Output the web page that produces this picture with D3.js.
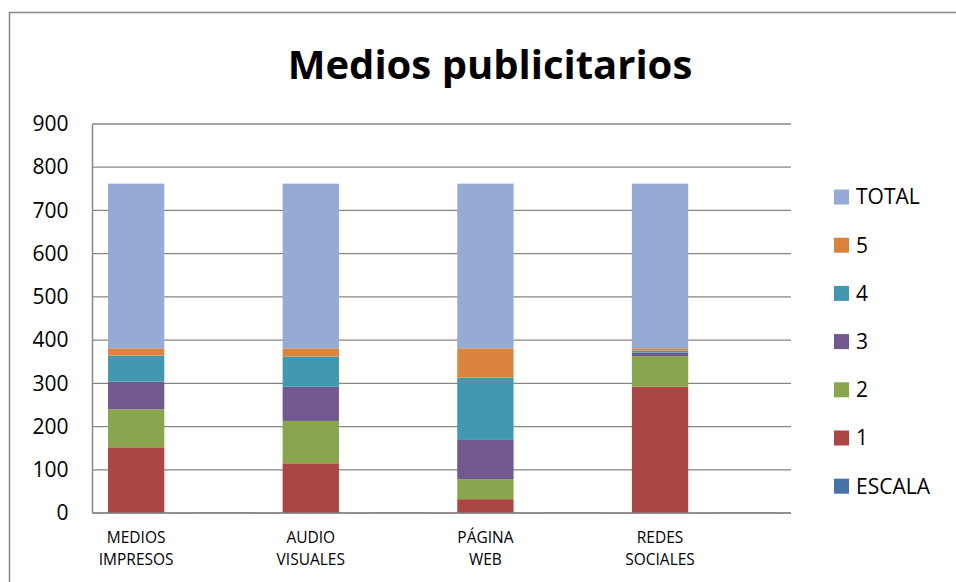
<!DOCTYPE html>
<html>
<head>
<meta charset="utf-8">
<script src="https://cdn.jsdelivr.net/npm/d3@7"></script>
<style>
  body { margin: 0; background: #fff; }
  text { font-family: "Open Sans", "Noto Sans", sans-serif; fill: #000; }
</style>
</head>
<body>
<svg id="chart"></svg>
<script>
// categories (every second slot is empty, as in the original sheet)
var categories = ["MEDIOS IMPRESOS", "", "AUDIO VISUALES", "", "PÁGINA WEB", "", "REDES SOCIALES", ""];
var seriesNames = ["ESCALA", "1", "2", "3", "4", "5", "TOTAL"];
var escala = [0, 1, 0, 1, 0, 1, 0, 1];
var s1 = [152, 0, 115, 0, 32, 0, 292, 0];
var s2 = [88, 0, 98, 0, 46, 0, 71, 0];
var s3 = [64, 0, 79, 0, 91, 0, 8, 0];
var s4 = [60, 0, 70, 0, 144, 0, 5, 0];
var s5 = [17, 0, 19, 0, 68, 0, 5, 0];
var total = [381, 0, 381, 0, 381, 0, 381, 0];
var yTicks = [0, 100, 200, 300, 400, 500, 600, 700, 800, 900];

var colors = {
    "ESCALA": "#4572A7",
    "1": "#AA4643",
    "2": "#89A54E",
    "3": "#71588F",
    "4": "#4198AF",
    "5": "#DB843D",
    "TOTAL": "#95ABD5"
};

var width = 956, height = 582;
var margin = {top: 124, right: 165, bottom: 69, left: 92.5};
var innerwidth = width - margin.left - margin.right,
    innerheight = height - margin.top - margin.bottom;

var rows = categories.map(function(c, i) {
    return {cat: i, "ESCALA": escala[i], "1": s1[i], "2": s2[i], "3": s3[i],
            "4": s4[i], "5": s5[i], "TOTAL": total[i]};
});
var stacked = d3.stack().keys(seriesNames)(rows);

var x = d3.scaleBand()
    .domain(d3.range(categories.length))
    .range([0, innerwidth])
    .paddingInner(0.355)
    .paddingOuter(0.1775);
var y = d3.scaleLinear().domain([0, 900]).range([innerheight, 0]);

var svg = d3.select("#chart").attr("width", width).attr("height", height);

// outer frame
svg.append("path")
    .attr("d", "M9.5," + height + "V12.5H" + width)
    .attr("fill", "none")
    .attr("stroke", "#868686")
    .attr("stroke-width", 1.5);

svg.append("text")
    .attr("x", 490).attr("y", 79)
    .attr("text-anchor", "middle")
    .style("font-size", "40px")
    .style("font-weight", "bold")
    .text("Medios publicitarios");

var g = svg.append("g")
    .attr("transform", "translate(" + margin.left + "," + margin.top + ")");

// gridlines
g.selectAll(".grid").data(yTicks).enter().append("line")
    .attr("x1", 0).attr("x2", innerwidth)
    .attr("y1", function(d) { return y(d); })
    .attr("y2", function(d) { return y(d); })
    .attr("stroke", "#868686").attr("stroke-width", 1.3);

// y axis labels
var yAxis = d3.axisLeft(y).tickValues(yTicks).tickSize(0).tickPadding(24);
g.append("g").call(yAxis)
    .call(function(a) { a.select(".domain").remove(); })
    .selectAll("text")
    .style("font-size", "21px")
    .style("font-family", "'Open Sans', 'Noto Sans', sans-serif");

g.append("line")
    .attr("x1", 0).attr("x2", 0).attr("y1", 0).attr("y2", innerheight)
    .attr("stroke", "#868686").attr("stroke-width", 1.5);

// bars
g.selectAll(".series").data(stacked).enter().append("g")
    .attr("fill", function(d) { return colors[d.key]; })
    .selectAll("rect").data(function(d) { return d; }).enter().append("rect")
    .attr("x", function(d) { return x(d.data.cat); })
    .attr("width", x.bandwidth())
    .attr("y", function(d) { return y(d[1]); })
    .attr("height", function(d) { return y(d[0]) - y(d[1]); });

// x axis line
g.append("line")
    .attr("x1", 0).attr("x2", innerwidth).attr("y1", innerheight).attr("y2", innerheight)
    .attr("stroke", "#868686").attr("stroke-width", 1.3).attr("opacity", 0.85);

// x labels, two lines each
var xl = g.selectAll(".xlab").data(categories.filter(function(c) { return c; })).enter()
    .append("text")
    .attr("text-anchor", "middle")
    .style("font-size", "15.5px")
    .attr("transform", function(d) {
        return "translate(" + (x(categories.indexOf(d)) + x.bandwidth() / 2) + "," + (innerheight + 30) + ")";
    });
xl.selectAll("tspan").data(function(d) { return d.split(" "); }).enter().append("tspan")
    .attr("x", 0)
    .attr("dy", function(d, i) { return i ? 22 : 0; })
    .text(function(d) { return d; });

// legend
var legendKeys = seriesNames.slice().reverse();
var legend = svg.selectAll(".legend").data(legendKeys).enter().append("g")
    .attr("transform", function(d, i) { return "translate(834," + (197 + i * 48.2) + ")"; });
legend.append("rect")
    .attr("x", 0).attr("y", -7.5).attr("width", 15).attr("height", 15)
    .attr("fill", function(d) { return colors[d]; });
legend.append("text")
    .attr("x", 22).attr("y", 0).attr("dy", "0.35em")
    .style("font-size", "21px")
    .text(function(d) { return d; });
</script>
</body>
</html>
